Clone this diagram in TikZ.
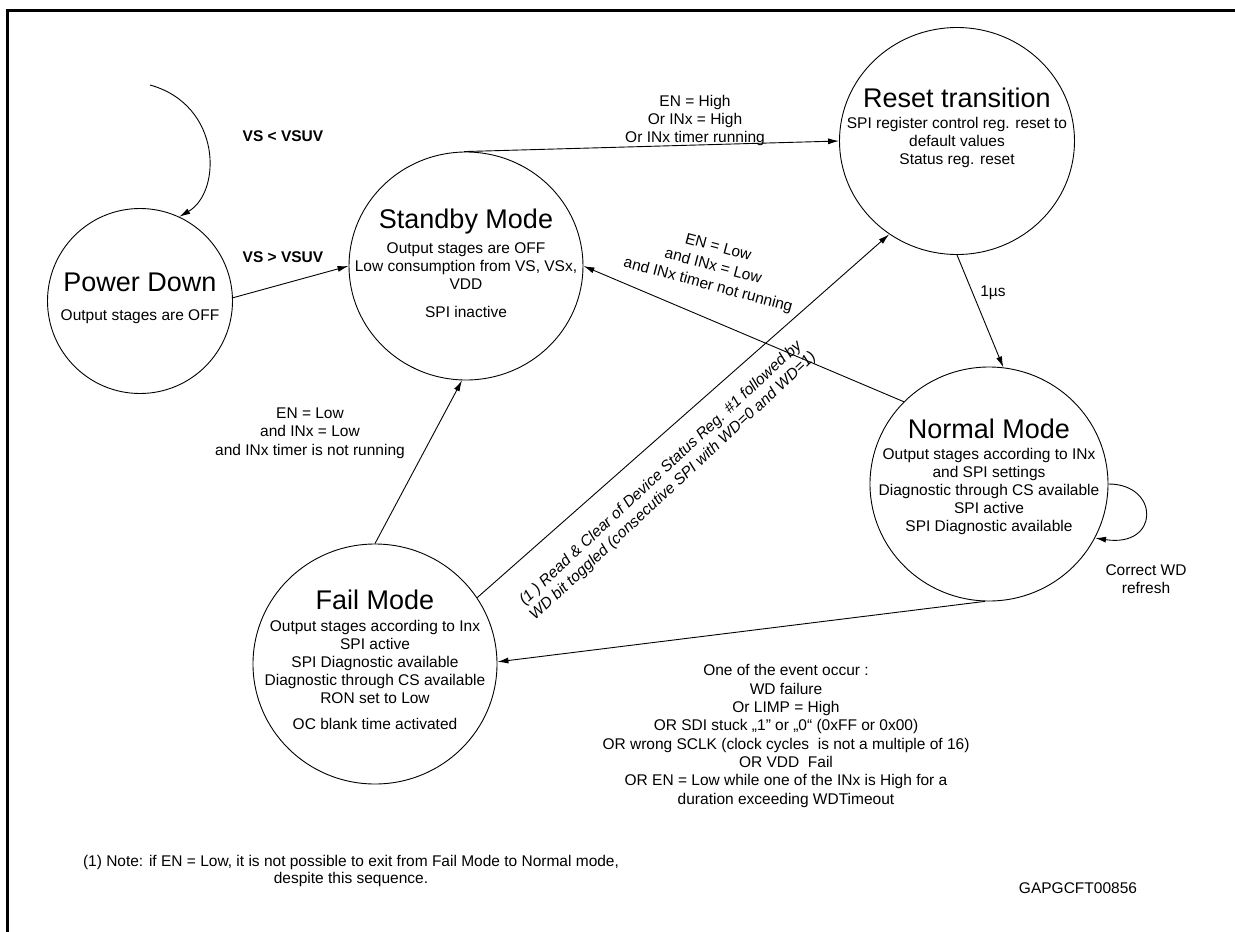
\documentclass[tikz,border=0pt]{standalone}
\usepackage{fontspec}
\setmainfont{Liberation Sans}
\usetikzlibrary{arrows.meta,shapes.geometric}
\tikzset{
  state/.style={draw, ellipse, line width=0.9pt, inner sep=0pt},
  ttl/.style={font=\fontsize{27}{30}\selectfont, inner sep=0pt},
  body/.style={font=\fontsize{15.5}{18}\selectfont, align=center, inner sep=0pt},
  bodyb/.style={font=\fontsize{15.5}{18}\selectfont\bfseries, align=center, inner sep=0pt},
  conn/.style={line width=0.9pt, -{Latex[length=11pt,width=6pt]}},
  frame/.style={line width=2.6pt},
}
\begin{document}
\begin{tikzpicture}[x=1pt,y=-1pt]
\useasboundingbox (0,0) rectangle (1235,932);
\draw[frame] (7.5,932) -- (7.5,10.7) -- (1235,10.7);

% states
\node[state, minimum width=185pt, minimum height=185pt] (pd) at (140,301) {};
\node[state, minimum width=234pt, minimum height=228pt] (sb) at (466,266) {};
\node[state, minimum width=235pt, minimum height=227pt] (rt) at (957,141) {};
\node[state, minimum width=238pt, minimum height=234pt] (nm) at (989,484) {};
\node[state, minimum width=244pt, minimum height=240pt] (fm) at (375,664) {};

% state texts
\node[ttl] (pdt) at (140,282) {Power Down};
\node[body] (pdb) at (140,317) {Output stages are OFF};

\node[ttl] (sbt) at (466,222) {Standby Mode};
\node[body] (sbb) at (466,266) {Output stages are OFF\\Low consumption from VS, VSx,\\VDD};
\node[body] (sbc) at (466,312) {SPI inactive};

\node[ttl] (rtt) at (957,98) {Reset transition};
\node[body] (rtb) at (957,142) {SPI register control reg. reset to\\default values\\Status reg. reset};

\node[ttl] (nmt) at (989,429) {Normal Mode};
\node[body] (nmb) at (989,491) {Output stages according to INx\\and SPI settings\\Diagnostic through CS available\\SPI active\\SPI Diagnostic available};

\node[ttl] (fmt) at (375,600) {Fail Mode};
\node[body, font=\fontsize{15.5}{17.8}\selectfont] (fmb) at (375,662) {Output stages according to Inx\\SPI active\\SPI Diagnostic available\\Diagnostic through CS available\\RON set to Low};
\node[body] (fmc) at (375,724) {OC blank time activated};

% connectors
\coordinate (loopstart) at (150,85);
\draw[conn] (loopstart) .. controls (222,105) and (222,192) .. (pd.65);
\draw[conn] (pd.2) -- (sb.180);
\draw[conn] (sb.91) -- (rt.180);
\draw[conn] (nm.136) -- (sb.0);
\draw[conn] (fm.90) -- (sb.268);
\draw[conn] (fm.33) -- (rt.234);
\draw[conn] (rt.270) -- (nm.83);
\draw[conn] (nm.268) -- (fm.1);
\draw[conn] (nm.0) .. controls (1160,484) and (1160,548) .. (nm.333);

% labels
\node[bodyb] (l1) at (283,136) {VS < VSUV};
\node[bodyb] (l2) at (283,257) {VS > VSUV};
\node[body] (l3) at (695,120) {EN = High\\Or INx = High\\Or INx timer running};
\node[body, font=\fontsize{15.5}{19.5}\selectfont, rotate=-15] (l4) at (713,267) {EN = Low\\and INx = Low\\and INx timer not running};
\node[body, font=\fontsize{15.5}{18.5}\selectfont] (l5) at (310,433) {EN = Low\\and INx = Low\\and INx timer is not running};
\node[body, font=\fontsize{15.5}{18}\selectfont\itshape, rotate=43] (l6) at (667,480) {(1 ) Read \& Clear of Device Status Reg. \#1 followed by\\WD bit toggled (consecutive SPI with WD=0 and WD=1)};
\node[body] (l7) at (993,293) {1µs};
\node[body] (l8) at (1146,579) {Correct WD\\refresh};
\node[body, font=\fontsize{15.5}{18.3}\selectfont] (l9) at (786,736) {One of the event occur :\\WD failure\\Or LIMP = High\\OR SDI stuck „1" or „0“ (0xFF or 0x00)\\OR wrong SCLK (clock cycles\ \ is not a multiple of 16)\\OR VDD\ \ Fail\\OR EN = Low while one of the INx is High for a\\duration exceeding WDTimeout};
\node[body, font=\fontsize{15.5}{17}\selectfont] (l10) at (351,871) {(1) Note: if EN = Low, it is not possible to exit from Fail Mode to Normal mode,\\despite this sequence.};
\node[body] (l11) at (1078,888) {GAPGCFT00856};
\end{tikzpicture}
\end{document}
